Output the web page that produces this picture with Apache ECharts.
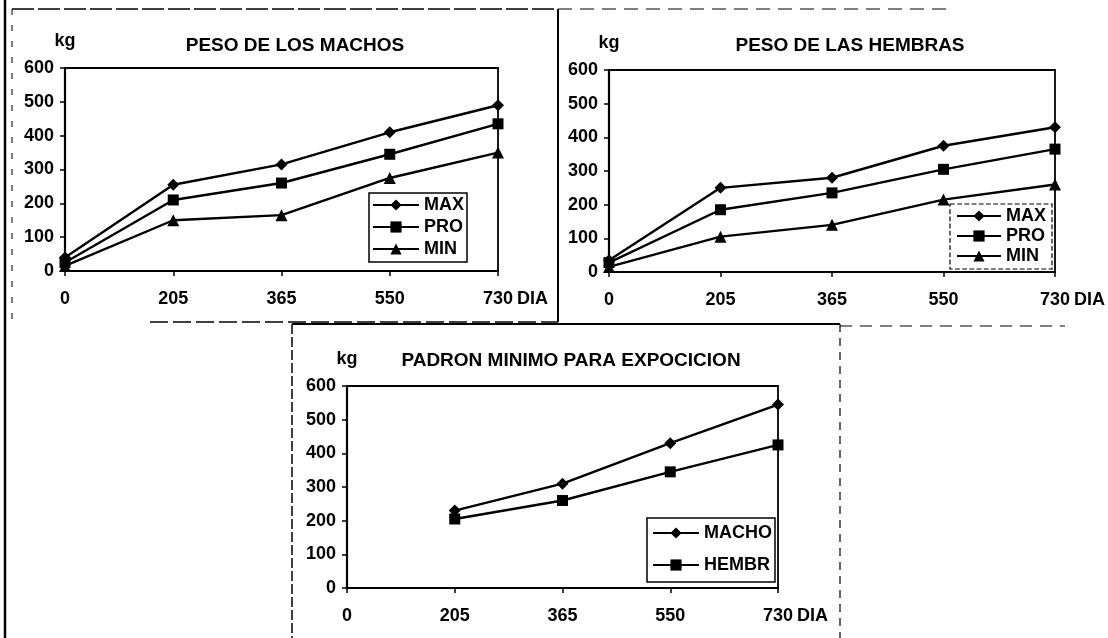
<!DOCTYPE html>
<html>
<head>
<meta charset="utf-8">
<title>Peso de machos y hembras</title>
<script src="https://cdn.jsdelivr.net/npm/echarts@6/dist/echarts.min.js"></script>
<style>
  html, body { margin: 0; padding: 0; background: #fff; }
  #chart { width: 1108px; height: 638px; }
</style>
</head>
<body>
<div id="chart"></div>
<script>
"use strict";

// dias (eje X comun a los tres graficos)
const DIAS = ["0", "205", "365", "550", "730"];
const Y_TICKS = [0, 100, 200, 300, 400, 500, 600];

// peso de los machos (kg)
const MACHOS_MAX = [40, 255, 315, 410, 490];
const MACHOS_PRO = [25, 210, 260, 345, 435];
const MACHOS_MIN = [15, 150, 165, 275, 350];

// peso de las hembras (kg)
const HEMBRAS_MAX = [35, 250, 280, 375, 430];
const HEMBRAS_PRO = [28, 185, 235, 305, 365];
const HEMBRAS_MIN = [15, 105, 140, 215, 260];

// padron minimo para exposicion (kg), sin dato en el dia 0
const PADRON_MACHO = [null, 230, 310, 430, 545];
const PADRON_HEMBR = [null, 205, 260, 345, 425];

const FONT = "Liberation Sans, Arial, sans-serif";
const INK = "#000";
const txt = (size) => ({ color: INK, fontFamily: FONT, fontWeight: "bold", fontSize: size });

// paneles: rejilla + titulo
const PANELS = [
  { title: "PESO DE LOS MACHOS", grid: { left: 65, top: 68, width: 433, height: 203 }, titleX: 290, titleY: 31 },
  { title: "PESO DE LAS HEMBRAS", grid: { left: 609, top: 70, width: 446, height: 202 }, titleX: 845, titleY: 31 },
  { title: "PADRON MINIMO PARA EXPOCICION", grid: { left: 347, top: 386, width: 431, height: 202 }, titleX: 566, titleY: 346 }
];

function xAxisFor(i) {
  return {
    type: "category", gridIndex: i, data: DIAS, boundaryGap: false,
    axisLine: { lineStyle: { color: INK, width: 2.2 } },
    axisTick: { show: true, length: 5, lineStyle: { color: INK, width: 1.5 } },
    axisLabel: Object.assign(txt(18), { margin: 19 }),
    name: "DIA", nameLocation: "end", nameGap: 19,
    nameTextStyle: Object.assign(txt(18), { verticalAlign: "top", padding: [19, 0, 0, 0] }),
    splitLine: { show: false }
  };
}
function yAxisFor(i) {
  return {
    type: "value", gridIndex: i, min: Y_TICKS[0], max: Y_TICKS[Y_TICKS.length - 1], interval: 100,
    axisLine: { show: true, lineStyle: { color: INK, width: 2.2 } },
    axisTick: { show: true, length: 5, lineStyle: { color: INK, width: 1.5 } },
    axisLabel: Object.assign(txt(18), { margin: 11 }),
    name: "kg", nameLocation: "end", nameGap: 18,
    nameTextStyle: Object.assign(txt(18), { align: "center" }),
    splitLine: { show: false }
  };
}
function serie(name, data, symbol, i) {
  return {
    type: "line", name: name, data: data, xAxisIndex: i, yAxisIndex: i,
    symbol: symbol, symbolSize: symbol === "rect" ? 11 : 12,
    lineStyle: { color: INK, width: 2.4 }, itemStyle: { color: INK },
    connectNulls: false, animation: false, z: 3
  };
}

// marcos del documento escaneado
const frame = (x1, y1, x2, y2, w, dash) => ({
  type: "line", silent: true,
  shape: { x1: x1, y1: y1, x2: x2, y2: y2 },
  style: { stroke: INK, lineWidth: w, lineDash: dash || null }
});

const chart = echarts.init(document.getElementById("chart"), null, { renderer: "canvas" });
chart.setOption({
  animation: false,
  backgroundColor: "#fff",
  title: PANELS.map(p => ({
    text: p.title, left: p.titleX, top: p.titleY, textAlign: "center",
    textStyle: txt(19)
  })),
  grid: PANELS.map(p => Object.assign({
    show: true, borderColor: INK, borderWidth: 1.8, backgroundColor: "transparent"
  }, p.grid)),
  xAxis: [0, 1, 2].map(xAxisFor),
  yAxis: [0, 1, 2].map(yAxisFor),
  legend: [
    {
      data: ["MAX", "PRO", "MIN"], orient: "vertical", left: 369, top: 193,
      itemWidth: 46, itemHeight: 14, itemGap: 4, padding: [3, 3, 4, 3],
      borderColor: INK, borderWidth: 1.5, textStyle: txt(18), selectedMode: false
    },
    {
      data: ["MAX", "PRO", "MIN"], orient: "vertical", left: 950, top: 204,
      itemWidth: 44, itemHeight: 14, itemGap: 2, padding: [3, 6, 4, 6],
      borderColor: INK, borderWidth: 1.2, borderType: "dashed", textStyle: txt(18), selectedMode: false
    },
    {
      data: ["MACHO", "HEMBR"], orient: "vertical", left: 647, top: 518,
      itemWidth: 46, itemHeight: 14, itemGap: 14, padding: [6, 3, 8, 5],
      borderColor: INK, borderWidth: 1.5, textStyle: txt(18), selectedMode: false
    }
  ],
  series: [
    serie("MAX", MACHOS_MAX, "diamond", 0),
    serie("PRO", MACHOS_PRO, "rect", 0),
    serie("MIN", MACHOS_MIN, "triangle", 0),
    serie("MAX", HEMBRAS_MAX, "diamond", 1),
    serie("PRO", HEMBRAS_PRO, "rect", 1),
    serie("MIN", HEMBRAS_MIN, "triangle", 1),
    serie("MACHO", PADRON_MACHO, "diamond", 2),
    serie("HEMBR", PADRON_HEMBR, "rect", 2)
  ],
  graphic: [
    frame(5, 0, 5, 638, 2.5),
    frame(12, 9, 558, 9, 1.5, [22, 4]),
    frame(12, 9, 12, 322, 1, [6, 10]),
    frame(150, 322, 558, 322, 1.5, [18, 5]),
    frame(558, 9, 558, 322, 2),
    frame(558, 9, 950, 9, 1.2, [14, 8]),
    frame(292, 324, 840, 324, 1.8),
    frame(292, 324, 292, 638, 1.5, [10, 3]),
    frame(840, 324, 840, 638, 1.2, [8, 6]),
    frame(840, 326, 1065, 326, 1.2, [12, 8])
  ]
});
</script>
</body>
</html>
